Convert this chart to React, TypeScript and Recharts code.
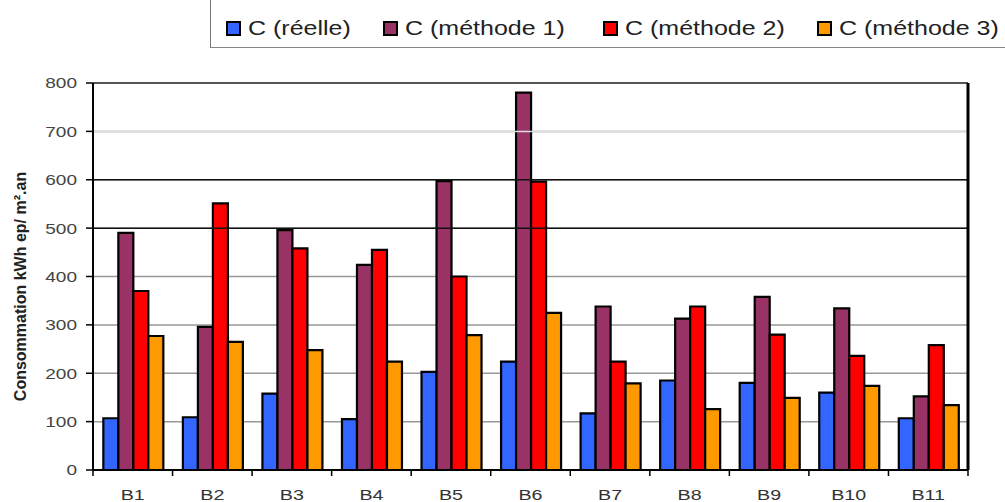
import { BarChart, Bar, XAxis, YAxis, CartesianGrid, ReferenceLine, Label } from "recharts"

const categories = ["B1", "B2", "B3", "B4", "B5", "B6", "B7", "B8", "B9", "B10", "B11"]
const reelle = [107, 109, 158, 105, 203, 224, 117, 185, 180, 160, 107]
const methode1 = [490, 296, 496, 424, 597, 780, 338, 313, 358, 334, 152]
const methode2 = [370, 551, 458, 455, 400, 596, 224, 338, 280, 236, 258]
const methode3 = [277, 265, 248, 224, 279, 325, 179, 126, 149, 174, 134]
const yTicks = [0, 100, 200, 300, 400, 500, 600, 700, 800]

const series = [
    { key: "reelle", name: "C (réelle)", color: "#3366ff", values: reelle },
    { key: "m1", name: "C (méthode 1)", color: "#993366", values: methode1 },
    { key: "m2", name: "C (méthode 2)", color: "#ff0000", values: methode2 },
    { key: "m3", name: "C (méthode 3)", color: "#ff9900", values: methode3 },
]

const data = categories.map((c, i) => {
    const row: Record<string, string | number> = { name: c }
    series.forEach(s => { row[s.key] = s.values[i] })
    return row
})

const FONT = "'Liberation Sans', Arial, sans-serif"
const STRETCH = 1.27

// legend item left edges (legend is laid out by hand, like the original)
const legendLeft = [226, 383, 603, 817]

function YTick(props: any) {
    const { x, y, payload } = props
    return (
        <g transform={`translate(${x},${y})`}>
            <line x1={-7} x2={0} y1={0} y2={0} stroke="#000" strokeWidth={1.5} />
            <text transform={`scale(${STRETCH},1)`} x={-16 / STRETCH} y={0} dy="0.36em" textAnchor="end"
                fontSize={15} fontFamily={FONT} fill="#444">
                {payload.value}
            </text>
        </g>
    )
}

function XTick(props: any) {
    const { x, y, payload, index, width } = props
    const band = (width ?? 875) / categories.length
    return (
        <g transform={`translate(${x},${y})`}>
            <line x1={-band / 2} x2={-band / 2} y1={0} y2={6} stroke="#000" strokeWidth={1.5} />
            {index === categories.length - 1 && (
                <line x1={band / 2} x2={band / 2} y1={0} y2={6} stroke="#000" strokeWidth={1.5} />
            )}
            <text transform={`scale(${STRETCH},1)`} x={0} y={24} dy="0.36em" textAnchor="middle"
                fontSize={15.5} fontFamily={FONT} fill="#333">
                {payload.value}
            </text>
        </g>
    )
}

export default function App() {
    return (
        <div style={{ position: "relative", width: 1005, height: 502, background: "#fff", fontFamily: FONT }}>
            <style>{"body{margin:0}"}</style>
            <div style={{
                position: "absolute", left: 210, top: 0, width: 795, height: 47,
                borderLeft: "1.5px solid #777", borderBottom: "1.5px solid #888",
            }} />
            {series.map((s, i) => (
                <div key={s.key} style={{ position: "absolute", left: legendLeft[i], top: 18, height: 20, display: "flex", alignItems: "center", whiteSpace: "nowrap" }}>
                    <span style={{ display: "inline-block", width: 11, height: 11, background: s.color, border: "2px solid #000", marginRight: 7 }} />
                    <span style={{ display: "inline-block", fontSize: 20, color: "#222", transform: "scaleX(1.25)", transformOrigin: "left center" }}>
                        {s.name}
                    </span>
                </div>
            ))}
            <BarChart
                width={1005}
                height={502}
                data={data}
                margin={{ top: 83, right: 0, bottom: 0, left: 0 }}
                barGap={0}
                barCategoryGap="13%"
                style={{ position: "absolute", left: 0, top: 0 }}
            >
                <CartesianGrid vertical={false} stroke="#999" strokeWidth={1.5} />
                <ReferenceLine y={500} stroke="#111" strokeWidth={1.5} />
                <ReferenceLine y={600} stroke="#111" strokeWidth={1.5} />
                <ReferenceLine y={700} stroke="#ddd" strokeWidth={1.5} />
                <ReferenceLine y={800} stroke="#555" strokeWidth={2} />
                <XAxis
                    dataKey="name"
                    height={32}
                    tickSize={0}
                    tickMargin={0}
                    tickLine={false}
                    axisLine={{ stroke: "#000", strokeWidth: 2 }}
                    tick={<XTick />}
                    interval={0}
                />
                <YAxis
                    width={93}
                    domain={[0, 800]}
                    ticks={yTicks}
                    tickSize={0}
                    tickMargin={0}
                    tickLine={false}
                    axisLine={{ stroke: "#000", strokeWidth: 2 }}
                    tick={<YTick />}
                    interval={0}
                >
                    <Label
                        content={(p: any) => {
                            const vb = p.viewBox || {}
                            const cx = 20
                            const cy = (vb.y ?? 83) + (vb.height ?? 387) / 2 + 10
                            return (
                                <text x={cx} y={cy} transform={`rotate(-90 ${cx} ${cy})`} textAnchor="middle"
                                    dy="0.36em" fontSize={16} fontWeight="bold" fontFamily={FONT} fill="#222">
                                    Consommation kWh ep/ m².an
                                </text>
                            )
                        }}
                    />
                </YAxis>
                <YAxis
                    yAxisId="right"
                    orientation="right"
                    width={37}
                    domain={[0, 800]}
                    tick={false}
                    tickLine={false}
                    axisLine={{ stroke: "#000", strokeWidth: 3 }}
                />
                {series.map(s => (
                    <Bar key={s.key} dataKey={s.key} name={s.name} fill={s.color} stroke="#000" strokeWidth={2.2}
                        isAnimationActive={false} />
                ))}
            </BarChart>
        </div>
    )
}
